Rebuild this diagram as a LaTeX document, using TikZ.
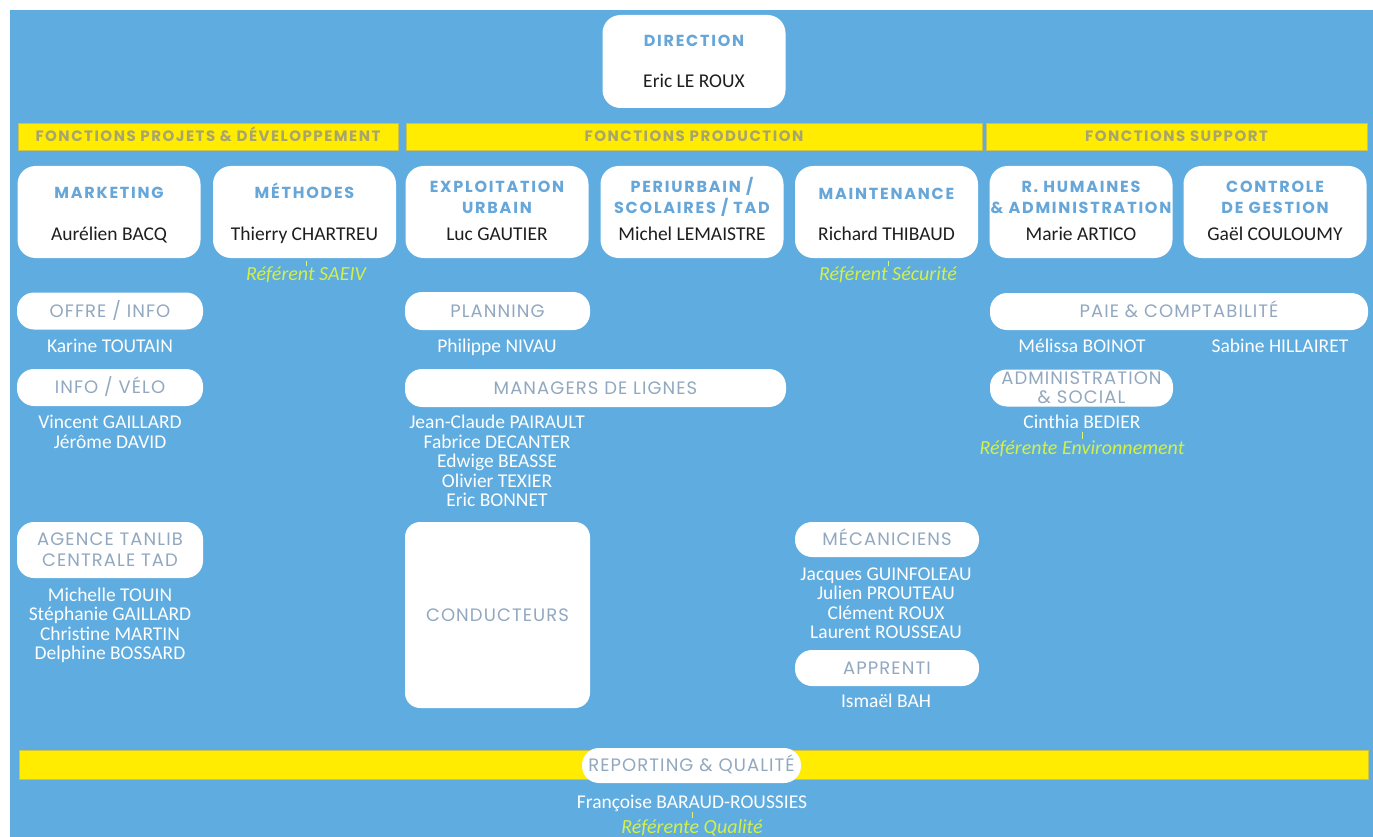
\documentclass[tikz,border=0pt]{standalone}
\usepackage{fontspec}
\setmainfont{Carlito}
\newfontfamily\titlefont[LetterSpace=11]{Poppins}
\newfontfamily\barfont[LetterSpace=10]{Poppins}
\newfontfamily\pillfont[LetterSpace=6]{Poppins}
\definecolor{bg}{RGB}{95,172,224}
\definecolor{ybar}{RGB}{255,236,0}
\definecolor{ybarline}{RGB}{205,195,70}
\definecolor{bartext}{RGB}{168,164,110}
\definecolor{titleblue}{RGB}{102,166,216}
\definecolor{pilltext}{RGB}{145,168,192}
\definecolor{namedark}{RGB}{30,30,30}
\definecolor{refc}{RGB}{212,240,70}
\tikzset{
  card/.style={fill=white, rounded corners=18pt, minimum width=183pt, minimum height=92pt, inner sep=0pt},
  pill/.style={fill=white, rounded corners=17pt, minimum width=186pt, minimum height=37pt, inner sep=0pt,
    text height=12.6pt, text depth=0pt, align=center, text=pilltext,
    font=\pillfont\fontsize{18}{21}\selectfont},
  ybarbox/.style={fill=ybar, draw=ybarline, line width=0.8pt, minimum height=27pt, inner sep=0pt,
    text height=10.5pt, text depth=0pt, text=bartext,
    font=\barfont\bfseries\fontsize{15}{16}\selectfont},
  ttl/.style={inner sep=0pt, text height=11.2pt, text depth=0pt, align=center, text=titleblue,
    font=\titlefont\bfseries\fontsize{16}{21}\selectfont},
  ttltwo/.style={ttl, text height=32.2pt},
  boss/.style={inner sep=0pt, text height=12.5pt, text depth=0pt, align=center, text=namedark,
    font=\fontsize{19.5}{21}\selectfont},
  person/.style={inner sep=0pt, text height=12.5pt, text depth=0pt, align=center, text=white,
    font=\fontsize{19.5}{19.5}\selectfont},
  referent/.style={inner sep=0pt, text height=12.8pt, text depth=0pt, align=center, text=refc,
    font=\itshape\fontsize{20}{21}\selectfont},
  tick/.style={draw=refc!75!white, line width=1pt, shorten <=3pt, shorten >=1pt}
}
\begin{document}
\begin{tikzpicture}[x=1pt,y=-1pt]
\useasboundingbox (0,0) rectangle (1373,837);
\fill[white] (0,0) rectangle (1373,837);
\fill[bg] (10,10) rectangle (1373,837);

% Direction
\node[card, minimum width=183pt, minimum height=93pt] (dir) at (694,61.5) {};
\node[ttl] (dirt) at (694,41) {DIRECTION};
\node[boss] (dirn) at (694,81.5) {Eric LE ROUX};

% Function bars
\node[ybarbox, minimum width=380pt] (b1) at (208,136.5) {FONCTIONS PROJETS \& DÉVELOPPEMENT};
\node[ybarbox, minimum width=576pt] (b2) at (694,136.5) {FONCTIONS PRODUCTION};
\node[ybarbox, minimum width=381pt] (b3) at (1176.5,136.5) {FONCTIONS SUPPORT};

% Cards
\node[card] (mkt) at (109,212) {};
\node[ttl] at (109,193) {MARKETING};
\node[boss] at (109,234) {Aurélien BACQ};

\node[card] (meth) at (304.5,212) {};
\node[ttl] at (304.5,193) {MÉTHODES};
\node[boss] at (304.5,234) {Thierry CHARTREU};

\node[card] (expl) at (497,212) {};
\node[ttltwo] at (497,197) {EXPLOITATION\\URBAIN};
\node[boss] at (497,234) {Luc GAUTIER};

\node[card] (peri) at (692,212) {};
\node[ttltwo] at (692,197) {PERIURBAIN /\\SCOLAIRES / TAD};
\node[boss] at (692,234) {Michel LEMAISTRE};

\node[card] (maint) at (886.5,212) {};
\node[ttl] at (886.5,193.5) {MAINTENANCE};
\node[boss] at (886.5,234) {Richard THIBAUD};

\node[card] (rh) at (1081,212) {};
\node[ttltwo] at (1081,197) {R. HUMAINES\\\& ADMINISTRATION};
\node[boss] at (1081,234) {Marie ARTICO};

\node[card] (cdg) at (1275,212) {};
\node[ttltwo] at (1275,197) {CONTROLE\\DE GESTION};
\node[boss] at (1275,234) {Gaël COULOUMY};

% Referents under cards
\node[referent] (rsaeiv) at (306,274) {Référent SAEIV};
\node[referent] (rsecu) at (888,274) {Référent Sécurité};
\draw[tick] (rsaeiv.north |- meth.south) -- (rsaeiv.north);
\draw[tick] (rsecu.north |- maint.south) -- (rsecu.north);

% Left column
\node[pill] (offre) at (110,311) {OFFRE / INFO};
\node[person] (karine) at (110,346) {Karine TOUTAIN};
\node[pill] (velo) at (110,387.5) {INFO / VÉLO};
\node[person, text height=32pt] (velon) at (110,432) {Vincent GAILLARD\\Jérôme DAVID};
\node[pill, minimum height=56pt, text height=33.6pt] (agence) at (110,550) {AGENCE TANLIB\\CENTRALE TAD};
\node[person, text height=71pt] (agencen) at (110,624) {Michelle TOUIN\\Stéphanie GAILLARD\\Christine MARTIN\\Delphine BOSSARD};

% Middle column
\node[pill, minimum width=185pt, minimum height=38pt] (plan) at (497.5,311) {PLANNING};
\node[person] (plann) at (497,346.5) {Philippe NIVAU};
\node[pill, minimum width=381pt, minimum height=38pt] (mgr) at (595.5,388) {MANAGERS DE LIGNES};
\node[person, text height=90.5pt] (mgrn) at (497,461.5) {Jean-Claude PAIRAULT\\Fabrice DECANTER\\Edwige BEASSE\\Olivier TEXIER\\Eric BONNET};
\node[pill, rounded corners=15pt, minimum width=185pt, minimum height=186pt] (cond) at (497.5,615) {CONDUCTEURS};

\node[pill, minimum width=184pt, minimum height=35pt] (meca) at (887,539.5) {MÉCANICIENS};
\node[person, text height=71pt] (mecan) at (886,603) {Jacques GUINFOLEAU\\Julien PROUTEAU\\Clément ROUX\\Laurent ROUSSEAU};
\node[pill, minimum width=184pt, minimum height=36pt] (appr) at (887,668) {APPRENTI};
\node[person] (apprn) at (886,701.5) {Ismaël BAH};

% Right column
\node[pill, minimum width=378pt] (paie) at (1179,311.5) {PAIE \& COMPTABILITÉ};
\node[person] (melissa) at (1082,346) {Mélissa BOINOT};
\node[person] (sabine) at (1280,346) {Sabine HILLAIRET};
\node[pill, minimum width=183pt, text height=31.6pt, font=\pillfont\fontsize{18}{19}\selectfont] (adm) at (1081.5,388) {ADMINISTRATION\\\& SOCIAL};
\node[person] (cinthia) at (1082,422.5) {Cinthia BEDIER};
\node[referent] (renv) at (1082,448.5) {Référente Environnement};
\draw[tick, shorten >=3pt] (cinthia.south) -- (renv.north);

% Bottom
\node[ybarbox, minimum width=1349pt, minimum height=29pt] (bbot) at (693.5,764.5) {};
\node[pill, minimum width=219pt, minimum height=35pt] (rep) at (691.5,765.5) {REPORTING \& QUALITÉ};
\node[person] (franc) at (692,802.5) {Françoise BARAUD-ROUSSIES};
\node[referent] (rqual) at (692,827.5) {Référente Qualité};
\draw[tick, shorten >=3pt] (franc.south) -- (rqual.north);
\end{tikzpicture}
\end{document}
